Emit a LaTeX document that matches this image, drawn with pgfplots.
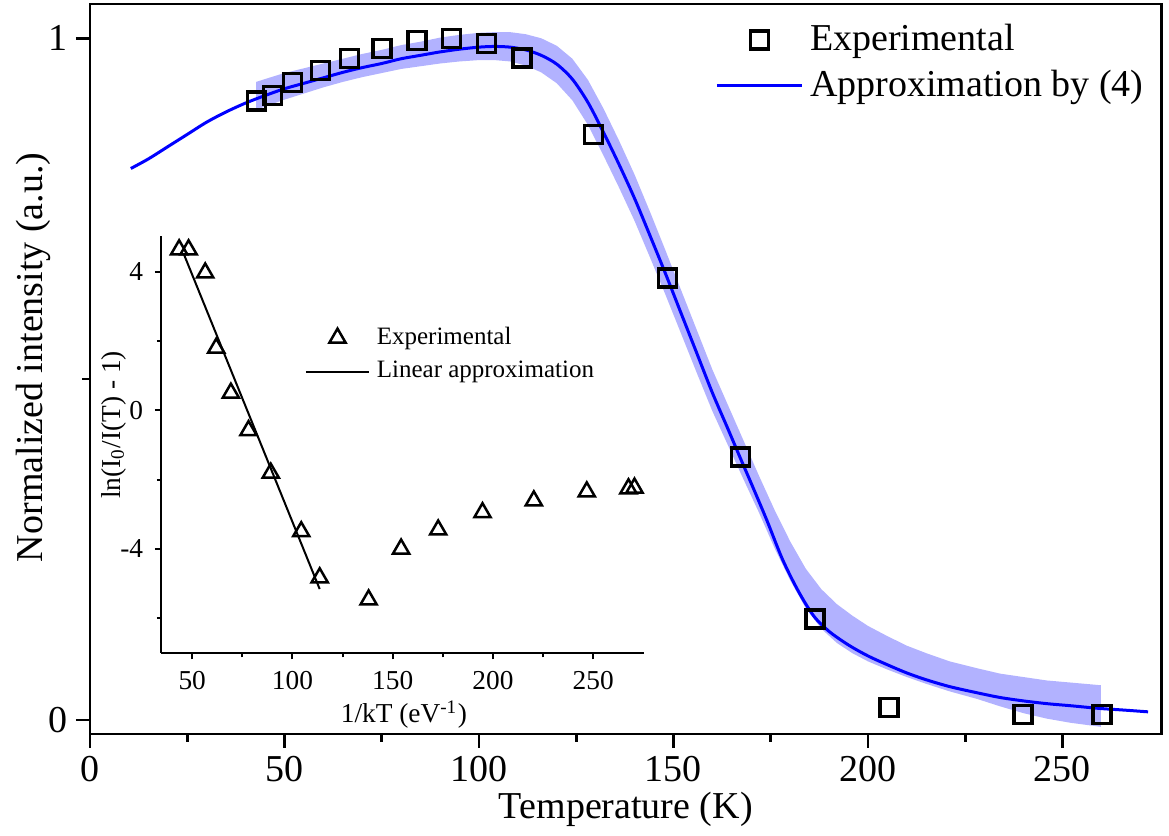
\documentclass[border=0pt]{standalone}
\usepackage{fontspec}
\setmainfont{Liberation Serif}
\usepackage{pgfplots}
\pgfplotsset{compat=1.18}
\definecolor{bandblue}{RGB}{178,178,255}
\pgfplotsset{
  legline/.style={legend image code/.code={\draw[##1] (0pt,0pt) -- (#1,0pt);}},
  legmark/.style={legend image code/.code={\draw[##1] plot coordinates {(#1,0pt)};}},
}
\begin{document}
\begin{tikzpicture}
\path[use as bounding box] (-27pt,-30.6pt) rectangle (323.7pt,220.2pt);
\begin{axis}[
  name=main, at={(0pt,0pt)}, anchor=south west,
  scale only axis, width=321.5pt, height=219pt,
  xmin=0, xmax=275.5, ymin=-0.0205, ymax=1.0503,
  xtick={0,50,...,250}, minor x tick num=1,
  ytick={0,1}, minor ytick={0.5},
  tick align=outside, xtick pos=bottom, ytick pos=left,
  major tick length=4.2pt, minor tick length=2.3pt,
  axis line style={line width=0.8pt},
  every tick/.style={black, line width=0.8pt},
  /pgf/number format/assume math mode=true,
  tick label style={font=\fontsize{11.4}{13}\selectfont},
  xticklabel style={yshift=1.2pt},
  yticklabel style={xshift=1pt},
  label style={font=\fontsize{11.4}{13}\selectfont},
  xlabel={Temperature (K)}, ylabel={Normalized intensity (a.u.)},
  xlabel style={at={(axis description cs:0.5,-0.103)}, anchor=center},
  ylabel style={at={(axis description cs:-0.053,0.516)}, anchor=center},
  clip=false,
  reverse legend,
  legend style={draw=none, fill=none, at={(axis description cs:0.583,0.982)}, anchor=north west,
    font=\fontsize{11.4}{13}\selectfont, inner sep=0pt, row sep=0.2pt},
  legend cell align=left,
]
\addplot[fill=bandblue, draw=none, forget plot] coordinates {
(42.7,0.936) (46,0.942) (50,0.949) (55,0.956) (60,0.963) (65,0.970) (70,0.977) (75,0.983)
(80,0.990) (85,0.995) (90,1.001) (95,1.005) (100,1.008) (104,1.009) (108,1.009) (112,1.006)
(116,1.000) (120,0.989) (124,0.970) (128,0.939) (132,0.897) (136,0.850) (140,0.800) (144,0.745)
(148,0.688) (152,0.630) (156,0.572) (160,0.514) (164,0.462) (168,0.410) (172,0.358) (176,0.308)
(180,0.262) (184,0.222) (188,0.192) (192,0.170) (196,0.153) (200,0.138) (205,0.123) (210,0.109)
(215,0.098) (221,0.086) (228,0.076) (234,0.068) (240,0.063) (246,0.058) (252,0.055) (259.9,0.051)
(259.9,-0.010) (252,-0.004) (246,0.002) (240,0.010) (234,0.020) (228,0.031) (221,0.042)
(215,0.053) (210,0.063) (205,0.074) (200,0.086) (196,0.098) (192,0.113) (188,0.134) (184,0.164)
(180,0.205) (176,0.252) (172,0.304) (168,0.353) (164,0.403) (160,0.453) (156,0.509) (152,0.566)
(148,0.623) (144,0.678) (140,0.732) (136,0.781) (132,0.828) (128,0.873) (124,0.909) (120,0.934)
(116,0.950) (112,0.960) (108,0.966) (104,0.968) (100,0.968) (95,0.966) (90,0.963) (85,0.959)
(80,0.955) (75,0.949) (70,0.943) (65,0.936) (60,0.928) (55,0.919) (50,0.910) (46,0.902) (42.7,0.895)
};
\addplot[blue, line width=0.9pt, smooth, tension=0.5, legline=25.5pt] coordinates {
(10.5,0.809) (15,0.823) (20,0.841) (25,0.859) (30,0.877) (35,0.892) (40,0.905) (45,0.916)
(50,0.926) (55,0.934) (60,0.942) (65,0.950) (70,0.957) (75,0.963) (80,0.970) (85,0.975)
(90,0.980) (95,0.984) (100,0.987) (104,0.988) (108,0.987) (112,0.983) (116,0.975) (120,0.962)
(124,0.940) (128,0.906) (132,0.862) (136,0.815) (140,0.765) (144,0.710) (148,0.654) (152,0.596)
(156,0.538) (160,0.480) (164,0.427) (167.2,0.384) (170,0.347) (174,0.293) (178,0.236) (182,0.190)
(186,0.153) (190,0.130) (195,0.110) (200,0.094) (205,0.081) (210,0.069) (215,0.059) (221,0.049)
(228,0.040) (234,0.033) (240,0.028) (246,0.024) (252,0.021) (259.5,0.017) (266,0.0145) (272,0.012)
};
\addlegendentry{Approximation by (4)}
\addplot[only marks, mark=square, mark size=2.7pt, black, mark options={line width=1.05pt},
  legmark=12.75pt] coordinates {
(42.8,0.908) (46.9,0.916) (52.0,0.935) (59.3,0.953) (66.7,0.970) (75.1,0.985) (84.1,0.997)
(92.9,1.000) (101.9,0.992) (111.0,0.971) (129.5,0.859) (148.4,0.648) (167.2,0.386) (186.4,0.148)
(205.4,0.018) (239.9,0.0083) (260.1,0.0083)
};
\addlegendentry{Experimental}
\end{axis}
\begin{axis}[
  at={(21.45pt,24.36pt)}, anchor=south west,
  scale only axis, width=144.6pt, height=125pt,
  xmin=34.7, xmax=275.1, ymin=-7, ymax=5.03,
  axis lines=left, axis line style={-, line width=0.6pt},
  xtick={50,100,...,250}, minor x tick num=1,
  ytick={-4,0,4}, minor ytick={-6,-2,2},
  tick align=outside, major tick length=2pt, minor tick length=1.4pt,
  every tick/.style={black, line width=0.6pt},
  /pgf/number format/assume math mode=true,
  tick label style={font=\fontsize{8.2}{9.5}\selectfont},
  label style={font=\fontsize{8.2}{9.5}\selectfont},
  xlabel={1/kT (eV\textsuperscript{-1})},
  ylabel={ln(I\textsubscript{0}/I(T) - 1)},
  xlabel style={at={(axis description cs:0.503,-0.148)}, anchor=center},
  ylabel style={at={(axis description cs:-0.099,0.547)}, anchor=center},
  clip=false,
  legend style={draw=none, fill=none, at={(axis description cs:0.296,0.80)}, anchor=north west,
    font=\fontsize{7.5}{9}\selectfont, inner sep=0pt, row sep=-0.3pt},
  legend cell align=left,
]
\addplot[only marks, mark=triangle, mark size=2.8pt, black, mark options={line width=0.75pt},
  legmark=9.5pt] coordinates {
(43.5,4.64) (48.2,4.64) (56.5,3.97) (62.0,1.80) (69.3,0.50) (78.1,-0.58) (89.2,-1.81)
(104.4,-3.50) (113.6,-4.83) (138.0,-5.47) (154.2,-4.00) (172.7,-3.45) (194.8,-2.95)
(220.4,-2.61) (246.8,-2.35) (267.6,-2.26) (270.6,-2.24)
};
\addlegendentry{Experimental}
\addplot[black, line width=0.6pt, legline=19pt] coordinates {
(45.7,4.53) (113.6,-5.16)
};
\addlegendentry{Linear approximation}
\end{axis}
\end{tikzpicture}
\end{document}
